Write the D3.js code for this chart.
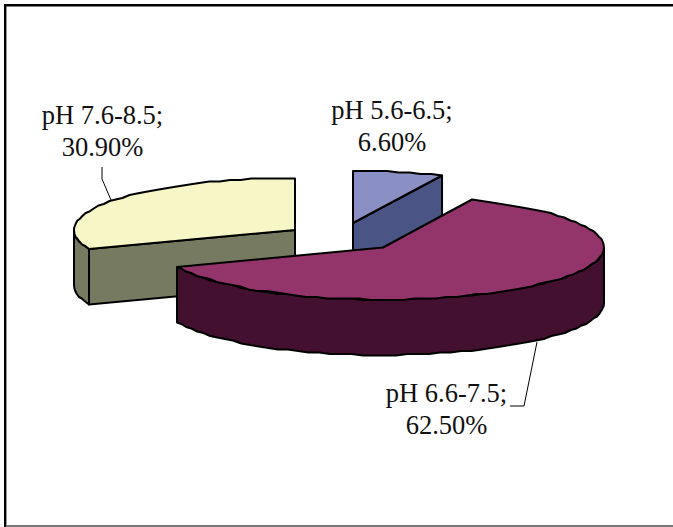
<!DOCTYPE html>
<html>
<head>
<meta charset="utf-8">
<script src="https://cdn.jsdelivr.net/npm/d3@7"></script>
<style>
html, body { margin: 0; padding: 0; background: #fff; }
svg { display: block; }
text { font-family: "Liberation Serif", serif; font-size: 26.5px; fill: #111; }
</style>
</head>
<body>
<svg id="chart" width="673" height="527"></svg>
<script>
// pH classes, clockwise from twelve o'clock
const categories = ["pH 5.6-6.5;", "pH 6.6-7.5;", "pH 7.6-8.5;"];
const shares = [6.6, 62.5, 30.9];
const valueLabels = ["6.60%", "62.50%", "30.90%"];
const topColors = ["#8A90C4", "#93356A", "#F6F6C6"];
const sideColors = ["#4B5585", "#431030", "#767A60"];

// Exploded centre of each wedge, and back-to-front painting order
const wedgeCentreX = [353, 383, 295];
const wedgeCentreY = [223, 247.5, 230];
const drawOrder = [0, 2, 1];
const labelX = [392, 446.5, 102.5];
const labelY = [119, 402, 124];

const leaderLines = [
  null,
  [[537, 342], [524, 406], [510, 406]],
  [[111, 200], [102, 179], [102, 167]]
];

const radiusX = 221, radiusY = 52, depth = 55.5;
const svg = d3.select("#chart");

// Frame: heavy top and left rules, faint rule along the bottom
svg.append("path").attr("d", "M673,5.2H5.2V527")
  .attr("fill", "none").attr("stroke", "#000").attr("stroke-width", 2.4);
svg.append("path").attr("d", "M6,526H673")
  .attr("fill", "none").attr("stroke", "#777").attr("stroke-width", 2);

const wedges = d3.pie().sort(null).value(d => d)(shares);

// Projects a pie angle (0 = up, clockwise) onto the tilted disc; the
// vertical snap gives the rim its slightly stepped, hand-plotted edge
const project = (a, cx, cy, dy = 0) => [
  cx + radiusX * Math.sin(a),
  Math.round((cy - radiusY * Math.cos(a) + dy) / 1.5) * 1.5
];
const arcPoints = (a0, a1, cx, cy, dy = 0) => {
  const n = Math.max(2, Math.round(Math.abs(a1 - a0) / 0.05));
  return d3.range(0, n + 1).map(i => project(a0 + (a1 - a0) * i / n, cx, cy, dy));
};

const line = d3.line();

function shape(points, fill) {
  svg.append("path").attr("d", line(points) + "Z").attr("fill", fill)
    .attr("stroke", "#000").attr("stroke-width", 2).attr("stroke-linejoin", "round");
}

drawOrder.forEach(i => {
  const w = wedges[i];
  const cx = wedgeCentreX[i], cy = wedgeCentreY[i];
  const a0 = w.startAngle, a1 = w.endAngle;
  const apex = [cx, cy];

  // Flat cut faces that look towards the viewer
  if (i === 0) {
    const e = project(a1, cx, cy);
    shape([apex, e, [e[0], e[1] + depth], [cx, cy + depth]], sideColors[i]);
  }
  if (i === 2) {
    const s = project(a0, cx, cy);
    shape([s, apex, [cx, cy + depth], [s[0], s[1] + depth]], sideColors[i]);
  }

  // Outer rim: only the part of the arc on the front half of the disc
  const rimStart = Math.max(a0, Math.PI / 2);
  const rimEnd = Math.min(a1, 3 * Math.PI / 2);
  if (rimStart < rimEnd) {
    const rim = arcPoints(rimStart, rimEnd, cx, cy);
    shape(rim.concat(arcPoints(rimEnd, rimStart, cx, cy, depth)), sideColors[i]);
  }

  // Top face
  shape([apex].concat(arcPoints(a0, a1, cx, cy)), topColors[i]);
});

// Leader lines and labels
leaderLines.forEach(pts => {
  if (pts) svg.append("path").attr("d", line(pts))
    .attr("fill", "none").attr("stroke", "#000").attr("stroke-width", 1);
});

categories.forEach((c, i) => {
  const t = svg.append("text").attr("text-anchor", "middle");
  t.append("tspan").attr("x", labelX[i]).attr("y", labelY[i]).text(c);
  t.append("tspan").attr("x", labelX[i]).attr("y", labelY[i] + 32).text(valueLabels[i]);
});
</script>
</body>
</html>
